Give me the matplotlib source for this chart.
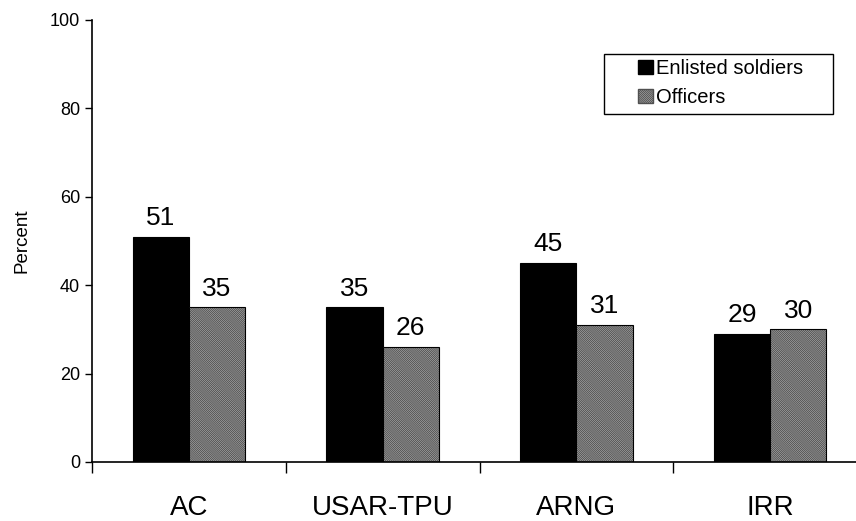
import numpy as np
import matplotlib
matplotlib.use("Agg")
import matplotlib.pyplot as plt
from matplotlib.patches import Patch, Rectangle

plt.rcParams['font.family'] = ['Liberation Sans', 'DejaVu Sans']
plt.rcParams['hatch.linewidth'] = 0.7

# Data
categories = ['AC', 'USAR-TPU', 'ARNG', 'IRR']
enlisted = [51, 35, 45, 29]
officers = [35, 26, 31, 30]

W, H = 856, 521
fig = plt.figure(figsize=(W / 100, H / 100), dpi=100)
ax = fig.add_axes([92 / W, 1 - 462 / H, 775 / W, 442 / H])

x = np.arange(len(categories))
w = 0.29
hatch = '\\' * 16
grey = '#bdbdbd'
hatch_col = '#505050'

ax.bar(x - w / 2, enlisted, w, color='black', edgecolor='black', linewidth=0.8)
# officers: grey fill with fine hatch, then black outline on top
ax.bar(x + w / 2, officers, w, color=grey, edgecolor=hatch_col,
       hatch=hatch, linewidth=0)
ax.bar(x + w / 2, officers, w, fill=False, edgecolor='black', linewidth=0.8)

for xi, v in zip(x - w / 2, enlisted):
    ax.text(xi, v + 1.5, str(v), ha='center', va='bottom', fontsize=19)
for xi, v in zip(x + w / 2, officers):
    ax.text(xi, v + 1.5, str(v), ha='center', va='bottom', fontsize=19)

ax.set_xlim(-0.5, 3.5)
ax.set_ylim(0, 100)
ax.set_yticks([0, 20, 40, 60, 80, 100])
ax.tick_params(axis='y', labelsize=13, length=5, width=1, direction='out')
ax.set_ylabel('Percent', fontsize=13.5, labelpad=14)

ax.set_xticks(np.arange(-0.5, 4.0, 1.0))
ax.set_xticklabels([])
ax.tick_params(axis='x', which='major', length=8, width=1, direction='out')
ax.set_xticks(x, minor=True)
ax.set_xticklabels(categories, minor=True, fontsize=20)
ax.tick_params(axis='x', which='minor', length=0, pad=24)

for s in ['top', 'right']:
    ax.spines[s].set_visible(False)
for s in ['left', 'bottom']:
    ax.spines[s].set_linewidth(1.2)

# legend box drawn separately (wide side padding)
fig.patches.append(Rectangle((604 / W, 1 - 114 / H), 229 / W, 60 / H,
                             transform=fig.transFigure, fill=False,
                             edgecolor='black', linewidth=1))
handles = [Patch(facecolor='black', edgecolor='black', label='Enlisted soldiers'),
           Patch(facecolor=grey, edgecolor=hatch_col, hatch=hatch,
                 label='Officers')]
leg = fig.legend(handles=handles, loc='upper left',
                 bbox_to_anchor=(638 / W, 1 - 59 / H), fontsize=14.5,
                 frameon=False, handlelength=0.75, handleheight=0.75,
                 handletextpad=0.15, borderpad=0, labelspacing=0.5,
                 borderaxespad=0)

fig.savefig('out.png', dpi=100)
